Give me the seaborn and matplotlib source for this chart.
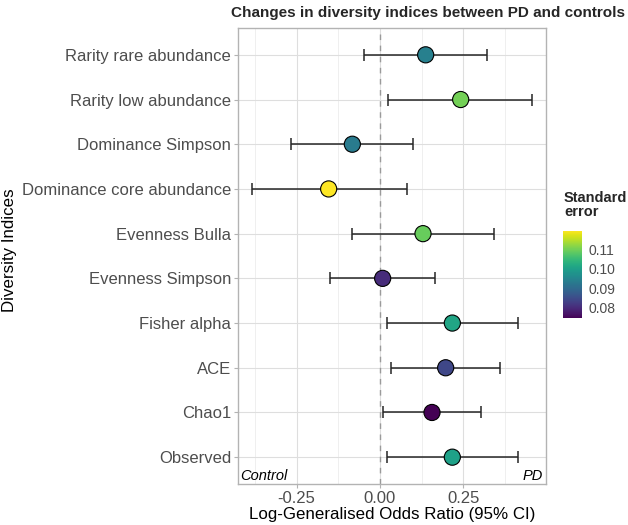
import numpy as np
import pandas as pd
import matplotlib
matplotlib.use("Agg")
import matplotlib.pyplot as plt
import seaborn as sns
from matplotlib.colors import Normalize
from matplotlib.cm import ScalarMappable

# ---- data (top to bottom as displayed) ----
indices = ["Rarity rare abundance", "Rarity low abundance", "Dominance Simpson",
           "Dominance core abundance", "Evenness Bulla", "Evenness Simpson",
           "Fisher alpha", "ACE", "Chao1", "Observed"]
log_or = [0.137, 0.242, -0.083, -0.154, 0.129, 0.008, 0.217, 0.197, 0.156, 0.217]
ci_low = [-0.048, 0.025, -0.266, -0.384, -0.085, -0.149, 0.020, 0.032, 0.010, 0.020]
ci_high = [0.321, 0.456, 0.098, 0.080, 0.343, 0.165, 0.415, 0.360, 0.303, 0.413]
std_err = [0.094, 0.110, 0.093, 0.1195, 0.109, 0.080, 0.101, 0.084, 0.0745, 0.100]
cbar_ticks = [0.08, 0.09, 0.10, 0.11]
x_ticks = [-0.25, 0.00, 0.25]

df = pd.DataFrame({"index": indices, "log_or": log_or, "lo": ci_low,
                   "hi": ci_high, "se": std_err})
df["pos"] = np.arange(len(df))[::-1]

sns.set_style("white")
plt.rcParams["font.family"] = ["Liberation Sans", "DejaVu Sans"]

W, H = 628, 525
fig = plt.figure(figsize=(W / 100, H / 100), dpi=100)
ax = fig.add_axes([238 / W, 1 - 484 / H, (546 - 238) / W, (484 - 28) / H])

norm = Normalize(vmin=min(std_err), vmax=max(std_err))

# grid
ax.set_xticks(x_ticks)
ax.set_xticks([-0.375, -0.125, 0.125, 0.375], minor=True)
ax.grid(which="major", color="#DEDEDE", lw=0.8, zorder=0)
ax.grid(which="minor", axis="x", color="#E6E6E6", lw=0.45, zorder=0)
ax.set_axisbelow(True)

ax.axvline(0, color="#9A9A9A", ls=(0, (4, 4)), lw=1.0, zorder=1)

ax.errorbar(x=df["log_or"], y=df["pos"],
            xerr=[df["log_or"] - df["lo"], df["hi"] - df["log_or"]],
            fmt="none", ecolor="#262626", elinewidth=1.1, capsize=4,
            capthick=1.1, zorder=2)
sns.scatterplot(data=df, x="log_or", y="pos", hue="se", palette="viridis",
                hue_norm=norm, s=135, edgecolor="black", linewidth=0.8,
                legend=False, ax=ax, zorder=3)

ax.set_yticks(df["pos"])
ax.set_yticklabels(df["index"])
ax.set_xticklabels(["-0.25", "0.00", "0.25"])
ax.set_xlim(-0.426, 0.498)
ax.set_ylim(-0.6, 9.6)

for s in ax.spines.values():
    s.set_color("#B3B3B3")
    s.set_linewidth(1.0)
ax.tick_params(which="major", length=3, color="#B3B3B3", width=0.8,
               labelsize=12, labelcolor="#4D4D4D", pad=2, left=True, bottom=True)
ax.tick_params(which="minor", length=0)

ax.set_xlabel("Log-Generalised Odds Ratio (95% CI)", fontsize=12.2, color="black", labelpad=1)
ax.set_ylabel("")
fig.text(10 / W, 1 - 250 / H, "Diversity Indices", rotation=90, ha="center",
         va="center", fontsize=12.2, color="black")

ax.text(0.008, 0.008, "Control", transform=ax.transAxes, style="italic",
        fontsize=10.5, ha="left", va="baseline", color="black")
ax.text(0.99, 0.008, "PD", transform=ax.transAxes, style="italic",
        fontsize=10.5, ha="right", va="baseline", color="black")

fig.text(625 / W, 1 - 13 / H, "Changes in diversity indices between PD and controls",
         ha="right", va="center", fontsize=11, fontweight="bold")

# colorbar
cax = fig.add_axes([563 / W, 1 - 318.3 / H, 19 / W, 87.6 / H])
cb = fig.colorbar(ScalarMappable(norm=norm, cmap="viridis"), cax=cax)
cb.set_ticks(cbar_ticks)
cb.set_ticklabels([f"{t:.2f}" for t in cbar_ticks])
cb.outline.set_visible(False)
cax.tick_params(length=4, color="white", width=0.8, direction="in",
                labelsize=10, labelcolor="#4D4D4D", left=True, right=True, pad=5)
fig.text(564 / W, 1 - 191 / H, "Standard\nerror", ha="left", va="top",
         fontsize=10.5, fontweight="bold", linespacing=1.0)

fig.savefig("out.png", dpi=100)
